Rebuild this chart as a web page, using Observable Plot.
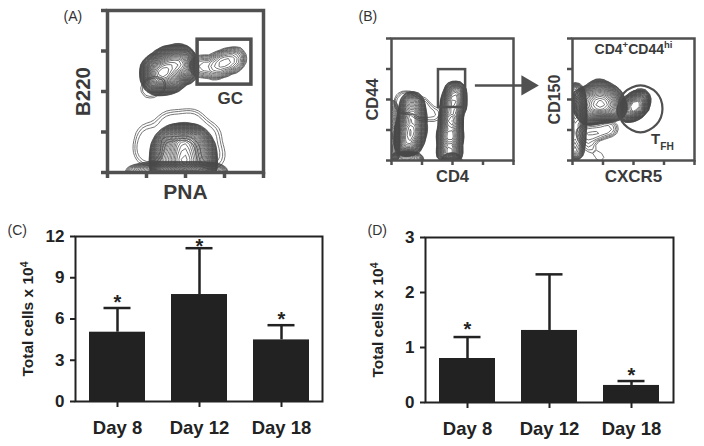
<!DOCTYPE html>
<html><head><meta charset="utf-8">
<script src="https://cdn.jsdelivr.net/npm/d3@7"></script>
<script src="https://cdn.jsdelivr.net/npm/@observablehq/plot@0.6"></script>
<style>
html,body{margin:0;padding:0;background:#fff}
#page{position:relative;width:704px;height:446px;overflow:hidden;font-family:"Liberation Sans",Arial,sans-serif}
#page svg{position:absolute;background:transparent;font-family:"Liberation Sans",Arial,sans-serif;max-width:none}
</style></head><body><div id="page"></div>
<script>
// ---- bar data
const days = ["Day 8","Day 12","Day 18"];
const cMeans = [5.04,7.78,4.48];
const cUpper = [6.8,11.15,5.55];
const cStars = ["*","*","*"];
const cStarAt = [6.8,10.87,5.55];
const dMeans = [0.8,1.31,0.31];
const dUpper = [1.19,2.33,0.39];
const dStars = ["*","","*"];
const dStarAt = [1.22,2.33,0.39];
const cTicks = [0,3,6,9,12];
const dTicks = [0,1,2,3];
// ---- flow-cytometry populations: [x, y, weight]
const aUpper = [[1.2,2.35,3],[1.38,2.45,4],[1.54,2.52,5],[1.77,2.65,4],[1.95,2.72,2.5],
  [1.3,2.25,2.5],[1.62,2.28,3],[2.0,2.52,2.5],[1.2,2.6,2.5],[1.49,2.77,3],[1.82,2.84,2.5]];
const aTail = [[1.05,2.07,1],[1.3,2.15,1]];
const aGC = [[2.4,2.62,1.5],[2.77,2.6,2],[3.03,2.72,3.2],[3.28,2.81,1.6]];
const aCore = [[1.6,0.85,2],[1.85,0.85,3.5],[2.1,0.85,3.5],[2.3,0.85,1.5],
  [1.45,0.6,3],[1.85,0.6,6],[2.1,0.6,5.5],[2.42,0.6,3],
  [1.45,0.3,3.5],[1.85,0.3,7],[2.1,0.3,6],[2.42,0.3,3.5],
  [1.45,0.08,3],[1.85,0.08,5],[2.1,0.08,5],[2.42,0.08,3]];
const aHalo = [[1.05,0.54,5],[1.05,0.91,3],[1.62,1.15,5],[2.13,1.2,5],[2.55,0.91,4],[2.65,0.42,4]];
const aStrip = [[0.6,-0.02,1.5],[0.9,-0.02,3],[1.2,-0.02,4],[1.5,-0.02,4],[1.8,-0.02,4],[2.1,-0.02,4],[2.4,-0.02,4],[2.7,-0.02,3],[2.95,-0.02,1.5]];
const bLeft = [[0.45,0.55,2],[0.65,0.6,2.5],[0.52,1.0,2.5],[0.75,1.0,2.5],[0.57,1.45,2.2],[0.78,1.45,2.2],[0.68,1.9,1.6]];
const bRight = [[1.9,0.3,3],[1.92,0.8,4],[1.95,1.3,4],[2.02,1.8,3.5],[2.08,2.2,2.5]];
const bStrip = [[0.1,-0.02,1.5],[0.35,-0.02,2],[0.6,-0.02,2],[0.85,-0.02,1.5],[1.85,-0.02,1.5],[2.1,-0.02,1.5]];
const bEdge = [[0.02,0.2,2],[0.02,0.6,2],[0.02,1.0,2],[0.02,1.4,1.5],[0.02,1.8,1]];
const bHalo = [[0.5,1.9,1.4],[0.95,1.7,0.8],[1.35,1.55,0.3]];
const tMain = [[0.38,1.97,2],[0.85,2.23,2.2],[1.25,2.03,2],[0.55,1.57,2],[1.02,1.70,2.5],[1.41,1.70,1.4],[0.82,1.87,3]];
const tFH = [[1.84,1.64,2],[2.07,1.80,2.6],[2.23,1.97,1.4]];
const tEdge = [[0.08,0.3,1.5],[0.1,0.7,2],[0.12,1.1,2],[0.12,1.5,2.5],[0.12,1.9,2],[0.1,2.3,1.2]];
const tTail = [[0.4,0.9,0.5],[0.8,0.95,0.5],[1.2,1.05,0.5],[0.55,0.5,0.3],[0.9,0.1,0.2]];
const tfhEllipse = [[2.95,1.70],[2.75,2.23],[2.23,2.46],[1.70,2.23],[1.51,1.70],[1.70,1.18],[2.23,0.92],[2.75,1.18]];
const frameTicks = [0,1,2,3,4];

const grey = "#505050", lineGrey = "#484848", ink = "#222222";
const logLevels = (lo, ratio, n) => d3.range(n).map(i => 100 * lo * ratio ** i);
const blob = (pts, bandwidth, thresholds, sw = 0.75) => Plot.density(pts, {
  x: d => d[0], y: d => d[1], weight: d => d[2], bandwidth, thresholds,
  stroke: lineGrey, strokeWidth: sw, fill: "none", clip: true
});
const label = (t, o) => Plot.text([t], {text: d => d, fontWeight: "bold", fill: "#3a3a3a", textAnchor: "middle", lineAnchor: "middle", ...o});
const tag = (t, dx, dy) => Plot.text([t], {text: d => d, frameAnchor: "top-left", textAnchor: "start", lineAnchor: "middle", dx, dy, fontSize: 14, fill: "#333"});
const page = document.getElementById("page");
function put(svgEl, left, top) {
  svgEl.style.left = left + "px"; svgEl.style.top = top + "px";
  page.appendChild(svgEl);
}
function facs(box, marks) {
  return Plot.plot({
    width: box.w, height: box.h, marginLeft: box.l, marginRight: box.r, marginTop: box.t, marginBottom: box.b,
    x: {domain: [0,4], axis: null}, y: {domain: [0,4], axis: null},
    marks: [
      ...marks,
      Plot.frame({stroke: grey, strokeWidth: box.sw}),
      Plot.axisX({ticks: frameTicks, tickSize: box.ts, tickFormat: () => "", stroke: grey, strokeWidth: box.sw, label: null}),
      Plot.axisY({ticks: frameTicks, tickSize: box.ts, tickFormat: () => "", stroke: grey, strokeWidth: box.sw, label: null})
    ]
  });
}
function bars(box, means, upper, stars, starAt, ticks, yMax, letter) {
  const rows = days.map((d, i) => ({d, m: means[i], u: upper[i], s: stars[i], a: starAt[i]}));
  return Plot.plot({
    width: box.w, height: box.h, marginLeft: box.l, marginRight: box.r, marginTop: box.t, marginBottom: box.b,
    x: {domain: days, padding: 0.32, paddingOuter: 0.16, label: null, axis: null},
    y: {domain: [0,yMax], axis: null},
    marks: [
      Plot.ruleX(rows, {x: "d", y1: "m", y2: "u", stroke: ink, strokeWidth: 2.5}),
      Plot.tickY(rows, {x: "d", y: "u", stroke: ink, strokeWidth: 2.5, insetLeft: 14.5, insetRight: 14.5}),
      Plot.barY(rows, {x: "d", y: "m", fill: ink}),
      Plot.text(rows, {x: "d", y: "a", text: "s", fontSize: 20, fontWeight: "bold", fill: ink, dy: -5.5}),
      Plot.frame({stroke: ink, strokeWidth: 2}),
      Plot.axisX({tickSize: 6, tickPadding: 13, fontSize: 18.5, fontWeight: "bold", color: ink, strokeWidth: 2, label: null}),
      Plot.axisY({ticks, tickSize: 5, tickPadding: 6, tickFormat: d3.format("d"), fontSize: 17, fontWeight: "bold", color: ink, strokeWidth: 2, label: null}),
      label("Total cells x 104", {frameAnchor: "left", rotate: -90, dx: box.ylx, fontSize: 15.5, fill: ink}),
      tag(letter, box.tx, box.ty)
    ]
  });
}

// (A)
put(facs({w:230,h:205,l:57,r:17,t:10,b:33,sw:3.5,ts:6}, [
  blob(aTail, 4, logLevels(0.0018, 1.4, 2)),
  blob(aUpper, 5, logLevels(0.0015, 1.1, 36)),
  blob(aGC, 4.5, logLevels(0.0012, 1.25, 12)),
  blob(aHalo, 6.5, logLevels(0.0025, 1.45, 3)),
  blob(aCore, 5.5, logLevels(0.002, 1.09, 40)),
  blob(aStrip, 4, logLevels(0.004, 1.12, 16)),
  Plot.rect([{}], {x1: 2.31, x2: 3.69, y1: 2.17, y2: 3.28, fill: "none", stroke: grey, strokeWidth: 3.5}),
  label("GC", {x: 3.15, y: 1.83, fontSize: 17}),
  label("B220", {frameAnchor: "left", rotate: -90, dx: -24, fontSize: 20.5}),
  label("PNA", {frameAnchor: "bottom", dy: 20, fontSize: 21}),
  tag("(A)", -44, 6)
]), 50, 0);

// (B) CD4 / CD44
put(facs({w:190,h:190,l:36,r:32,t:38,b:30,sw:2.5,ts:5}, [
  blob(bHalo, 3, logLevels(0.0006, 1.6, 3)),
  blob(bLeft, 4.2, logLevels(0.0012, 1.11, 32)),
  blob(bRight, 3.6, logLevels(0.0012, 1.12, 34)),
  blob(bStrip, 2.5, logLevels(0.004, 1.12, 14)),
  blob(bEdge, 2, logLevels(0.004, 1.12, 16)),
  Plot.rect([{}], {x1: 1.54, x2: 2.43, y1: 1.74, y2: 2.98, fill: "none", stroke: grey, strokeWidth: 2.5}),
  Plot.ruleY([2.46], {x1: 2.75, x2: 4.3, stroke: grey, strokeWidth: 2.5}),
  Plot.dot([{}], {x: 4.45, y: 2.46, symbol: "triangle", rotate: 90, r: 7.5, fill: grey, stroke: "none"}),
  label("CD44", {frameAnchor: "left", rotate: -90, dx: -19, fontSize: 16.5}),
  label("CD4", {frameAnchor: "bottom", dy: 16, fontSize: 16.5}),
  tag("(B)", -33, -22)
]), 355, 0);

// (B) CXCR5 / CD150
put(facs({w:169,h:190,l:37,r:10,t:38,b:30,sw:2.5,ts:5}, [
  blob(tTail, 3.5, logLevels(0.0008, 1.3, 7)),
  blob(tMain, 5, logLevels(0.0012, 1.1, 30)),
  blob(tFH, 4.5, logLevels(0.0012, 1.1, 28)),
  blob(tEdge, 2.6, logLevels(0.002, 1.12, 24)),
  Plot.line(tfhEllipse, {x: d => d[0], y: d => d[1], curve: "catmull-rom-closed", stroke: grey, strokeWidth: 2.2}),
  label("CD150", {frameAnchor: "left", rotate: -90, dx: -18, fontSize: 16}),
  label("CXCR5", {frameAnchor: "bottom", dy: 16, fontSize: 17}),
  label("CD4+CD44hi", {x: 2.0, y: 3.65, fontSize: 14}),
  label("TFH", {x: 2.95, y: 0.7, fontSize: 15})
]), 535, 0);

// (C), (D)
put(bars({w:340,h:236,l:75,r:18,t:26,b:45,ylx:-47,tx:-68,ty:-6}, cMeans, cUpper, cStars, cStarAt, cTicks, 12, "(C)"), 0, 210);
put(bars({w:344,h:236,l:65,r:31,t:27,b:44,ylx:-47,tx:-58,ty:-7}, dMeans, dUpper, dStars, dStarAt, dTicks, 3, "(D)"), 360, 210);

// Superscripts and subscripts stay real text, set with tspans.
const rich = {
  "CD4+CD44hi": [["CD4",0],["+",1],["CD44",0],["hi",1]],
  "TFH": [["T",0],["FH",-1]],
  "Total cells x 104": [["Total cells x 10",0],["4",1]]
};
page.querySelectorAll("text").forEach(t => {
  const parts = rich[t.textContent];
  if (!parts) return;
  const fs = parseFloat(getComputedStyle(t).fontSize);
  t.textContent = "";
  let last = 0;
  for (const [s, k] of parts) {
    const sp = document.createElementNS("http://www.w3.org/2000/svg", "tspan");
    sp.textContent = s;
    const shift = k === 1 ? -0.38 * fs : k === -1 ? 0.4 * fs : 0;
    sp.setAttribute("dy", shift - last);
    if (k) sp.setAttribute("font-size", fs * 0.68);
    last = shift;
    t.appendChild(sp);
  }
});
</script></body></html>
